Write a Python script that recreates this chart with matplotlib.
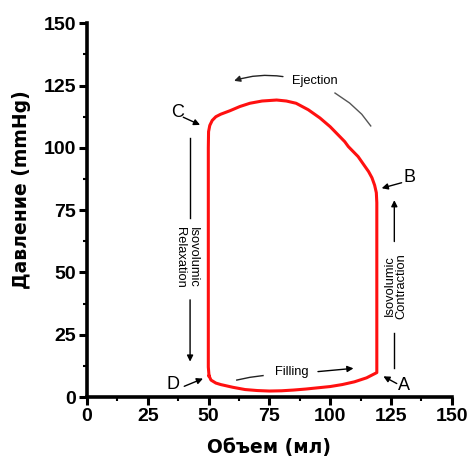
import numpy as np
import matplotlib.pyplot as plt
from matplotlib.ticker import MultipleLocator

# PV loop (volume ml, pressure mmHg), going D -> A -> B -> C -> D
loop_volume = [50.2, 51, 53, 55, 60, 65, 70, 75, 80, 85, 90, 95, 100, 105, 110, 115, 119.2,
               119.2, 119.0, 118.3, 117.2, 115.8, 114, 111.5, 109.5, 107.5, 106, 104, 100,
               95.8, 91, 86, 82, 78, 72, 67, 62.9, 58.8, 55, 53, 51.5, 50.5, 50, 49.9, 49.9, 50.2]
loop_pressure = [8.5, 6.8, 5.6, 5.0, 3.9, 3.0, 2.6, 2.4, 2.5, 2.8, 3.2, 3.7, 4.2, 5.0, 6.1, 7.7, 9.8,
                 78, 82, 85, 88, 90.5, 93, 96.5, 98.5, 100.5, 102.5, 104.5, 108.5,
                 112, 115.3, 117.9, 118.8, 119.2, 118.8, 117.9, 116.6, 114.9, 113.5, 112.5, 111, 109, 106.5, 100, 12, 8.5]

point_labels = ["A", "B", "C", "D"]
label_pos = [(130.4, 4.8), (132.5, 88), (37.4, 114), (35.4, 5.2)]
label_arrow_from = [(127.4, 5.4), (129.4, 86), (39.6, 112.3), (40.0, 4.3)]
label_arrow_to = [(121.9, 8.3), (121.2, 83.8), (46.5, 109.2), (47.7, 7.4)]

x_ticks = [0, 25, 50, 75, 100, 125, 150]
y_ticks = [0, 25, 50, 75, 100, 125, 150]

tick_font = {"family": "Liberation Sans", "weight": "bold", "size": 14}
note_font = {"family": "Liberation Sans", "size": 9.3}
arrow_kw = dict(arrowstyle="-|>", color="black", lw=1.0, mutation_scale=9, shrinkA=0, shrinkB=0)

fig = plt.figure(figsize=(4.72, 4.61), dpi=100)
ax = fig.add_axes([0.1843, 0.1388, 0.7727, 0.8107])

ax.plot(loop_volume, loop_pressure, color="#ff1010", lw=2.2, solid_joinstyle="round")

ax.set_xlim(0, 150)
ax.set_ylim(0, 150)
ax.set_xticks(x_ticks)
ax.set_yticks(y_ticks)
ax.xaxis.set_minor_locator(MultipleLocator(12.5))
ax.yaxis.set_minor_locator(MultipleLocator(12.5))
ax.set_xticklabels([str(t) for t in x_ticks], fontdict=tick_font)
ax.set_yticklabels([str(t) for t in y_ticks], fontdict=tick_font)
ax.tick_params(which="major", length=6, width=2.2, pad=2)
ax.tick_params(which="minor", length=3, width=1.5)
for side in ["top", "right"]:
    ax.spines[side].set_visible(False)
for side in ["left", "bottom"]:
    ax.spines[side].set_linewidth(2.6)

ax.set_xlabel("Объем (мл)", family="DejaVu Sans", weight="bold", size=13.5, labelpad=9)
ax.set_ylabel("Давление (mmHg)", family="DejaVu Sans", weight="bold", size=13.5)
ax.yaxis.set_label_coords(-0.153, 0.555)

# A, B, C, D markers
for lab, pos, a0, a1 in zip(point_labels, label_pos, label_arrow_from, label_arrow_to):
    ax.text(pos[0], pos[1], lab, family="Liberation Sans", size=13, ha="center", va="center")
    ax.annotate("", xy=a1, xytext=a0, arrowprops=arrow_kw)

# Ejection
ax.text(93.8, 127.0, "Ejection", fontdict=note_font, ha="center", va="center")
ax.annotate("", xy=(60.5, 126.9), xytext=(80.6, 128.6),
            arrowprops=dict(arrow_kw, color="#222222", connectionstyle="arc3,rad=0.12"))
ax.plot([102, 108, 113, 116.7], [122, 118, 113.5, 108.8], color="#555555", lw=1.0)

# Filling
ax.text(84.2, 10.0, "Filling", fontdict=note_font, ha="center", va="center")
ax.plot([61.6, 67, 72.4], [6.8, 7.9, 8.6], color="#222222", lw=1.0)
ax.annotate("", xy=(109.6, 11.5), xytext=(95.0, 10.2), arrowprops=arrow_kw)

# Isovolumic relaxation
ax.plot([42.4, 42.4], [104, 72], color="black", lw=1.0)
ax.text(40.9, 56, "Isovolumic\nRelaxation", fontdict=note_font, rotation=-90,
        ha="center", va="center", linespacing=1.0)
ax.annotate("", xy=(42.4, 14.2), xytext=(42.4, 39), arrowprops=arrow_kw)

# Isovolumic contraction
ax.plot([126.4, 126.4], [11.6, 25.7], color="black", lw=1.0)
ax.text(126.9, 44.6, "Isovolumic\nContraction", fontdict=note_font, rotation=90,
        ha="center", va="center", linespacing=1.0)
ax.annotate("", xy=(126.4, 79), xytext=(126.4, 62.4), arrowprops=arrow_kw)

fig.savefig("out.png", dpi=100)
